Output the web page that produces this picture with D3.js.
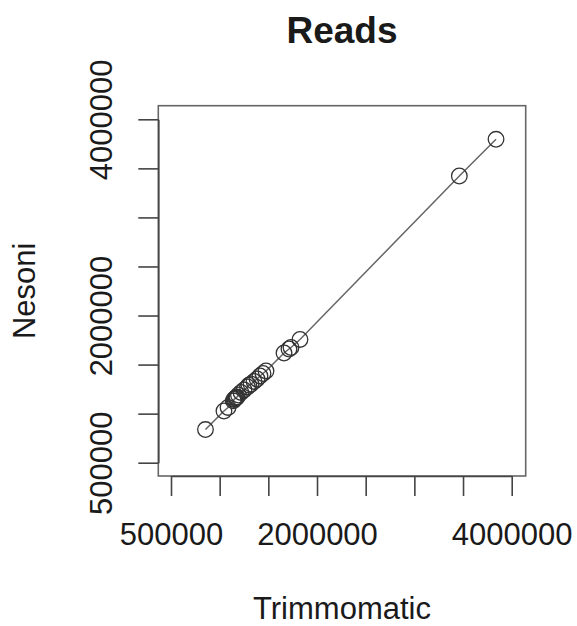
<!DOCTYPE html>
<html>
<head>
<meta charset="utf-8">
<script src="https://cdn.jsdelivr.net/npm/d3@7"></script>
<style>
  html, body { margin: 0; padding: 0; background: #fff; }
  svg { display: block; }
  text { font-family: "Liberation Sans", Arial, Helvetica, sans-serif; fill: #1a1a1a; }
</style>
</head>
<body>
<svg id="chart" width="577" height="626"></svg>
<script>
// ---- data ----
const trimmomatic = [854000, 1044000, 1086000, 1140000, 1147000, 1155000, 1163000, 1170000, 1178000, 1193000, 1219000,
  1250000, 1286000, 1300000, 1322000, 1353000, 1384000, 1414000, 1445000, 1476000,
  1661000, 1712000, 1733000, 1825000, 3462000, 3839000];
const nesoni = [838000, 1027000, 1063000, 1130000, 1144000, 1150000, 1159000, 1163000, 1170000, 1190000, 1216000,
  1241000, 1272000, 1290000, 1302000, 1328000, 1353000, 1384000, 1409000, 1435000,
  1618000, 1659000, 1674000, 1756000, 3422000, 3796000];
const tickValues = [500000, 1000000, 1500000, 2000000, 2500000, 3000000, 3500000, 4000000];
const tickLabels = ["500000", "", "", "2000000", "", "", "", "4000000"];
const titleText = "Reads";
const xTitle = "Trimmomatic";
const yTitle = "Nesoni";

// ---- layout ----
const svg = d3.select("#chart");
const box = { left: 158.3, right: 525.7, top: 105.7, bottom: 476 };
const x = d3.scaleLinear().domain([500000, 4000000]).range([171, 511.7]);
const y = d3.scaleLinear().domain([500000, 4000000]).range([462.7, 119.3]);
const fmt = v => tickLabels[tickValues.indexOf(v)];
const inkColor = "#444";

// plot box
svg.append("rect")
  .attr("x", box.left).attr("y", box.top)
  .attr("width", box.right - box.left).attr("height", box.bottom - box.top)
  .attr("fill", "none").attr("stroke", "#666").attr("stroke-width", 1.6);

// x axis
const gx = svg.append("g").attr("transform", `translate(0,${box.bottom})`)
  .call(d3.axisBottom(x).tickValues(tickValues).tickFormat(fmt).tickSize(20).tickSizeOuter(0).tickPadding(27));
gx.select(".domain").attr("stroke", inkColor).attr("stroke-width", 1.6);
gx.selectAll(".tick line").attr("stroke", inkColor).attr("stroke-width", 1.6);
gx.selectAll(".tick text").style("font-size", "31px").attr("fill", "#1a1a1a");

// y axis
const gy = svg.append("g").attr("transform", `translate(${box.left},0)`)
  .call(d3.axisLeft(y).tickValues(tickValues).tickFormat(fmt).tickSize(20).tickSizeOuter(0));
gy.select(".domain").attr("stroke", inkColor).attr("stroke-width", 1.6);
gy.selectAll(".tick line").attr("stroke", inkColor).attr("stroke-width", 1.6);
gy.selectAll(".tick text")
  .style("font-size", "31px").attr("fill", "#1a1a1a")
  .attr("transform", "rotate(-90)")
  .attr("x", 0).attr("y", -(box.left - 111.7)).attr("dy", 0)
  .attr("text-anchor", "middle");

// connecting line through sorted points
const pts = trimmomatic.map((v, i) => [v, nesoni[i]]).sort((a, b) => a[0] - b[0]);
svg.append("path")
  .attr("d", d3.line().x(d => x(d[0])).y(d => y(d[1]))(pts))
  .attr("fill", "none").attr("stroke", "#666").attr("stroke-width", 1.5);

// points
svg.append("g").selectAll("circle").data(pts).join("circle")
  .attr("cx", d => x(d[0])).attr("cy", d => y(d[1])).attr("r", 7.8)
  .attr("fill", "none").attr("stroke", "#333").attr("stroke-width", 1.3);

// titles
const cx = (box.left + box.right) / 2;
svg.append("text").attr("x", cx).attr("y", 42.5).attr("text-anchor", "middle")
  .style("font-size", "37px").style("font-weight", "bold").text(titleText);
svg.append("text").attr("x", cx).attr("y", 619).attr("text-anchor", "middle")
  .style("font-size", "31px").text(xTitle);
svg.append("text").attr("transform", `translate(35,${(box.top + box.bottom) / 2}) rotate(-90)`)
  .attr("text-anchor", "middle").style("font-size", "31px").text(yTitle);
</script>
</body>
</html>
